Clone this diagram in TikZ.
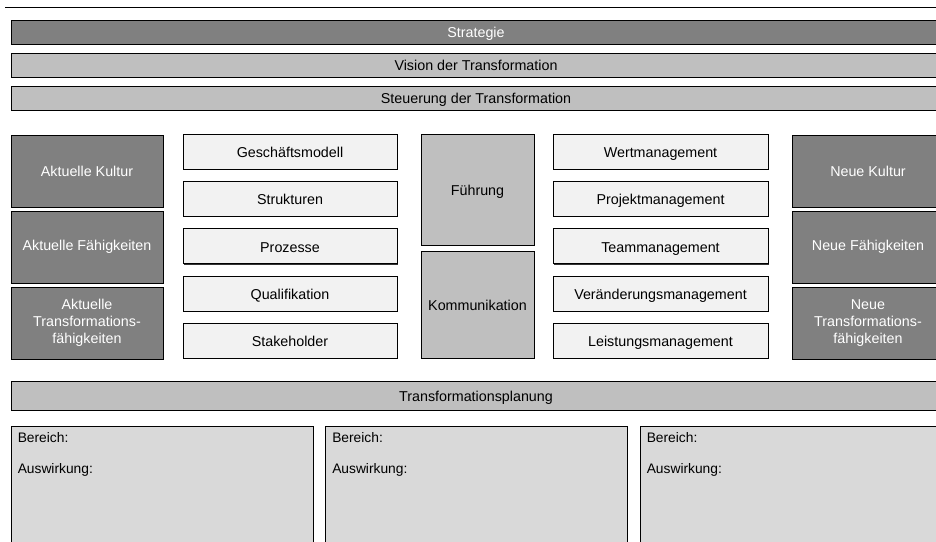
\documentclass[tikz,border=0pt]{standalone}
\usepackage{fontspec}
\setmainfont{Liberation Sans}
\usetikzlibrary{shadows}
\definecolor{dunkel}{HTML}{808080}
\definecolor{mittel}{HTML}{BFBFBF}
\definecolor{hell}{HTML}{F2F2F2}
\definecolor{feld}{HTML}{D9D9D9}
\begin{document}
\begin{tikzpicture}[x=1pt,y=-1pt,
  box/.style={draw,line width=0.9pt,inner sep=0pt,align=center,
    font=\fontsize{14.3}{17}\selectfont,
    general shadow={fill=black!80,shadow xshift=0.8pt,shadow yshift=-0.8pt}},
  zeile/.style={text height=13.5pt,text depth=2pt},
  dunkelbox/.style={box,fill=dunkel,text=white},
  mittelbox/.style={box,fill=mittel},
  hellbox/.style={box,zeile,fill=hell,minimum width=214pt,minimum height=35pt},
  balken/.style={zeile,minimum width=930pt,minimum height=24pt},
  spalte/.style={dunkelbox,minimum width=152pt,minimum height=72pt},
  feldbox/.style={draw,line width=0.9pt,fill=feld,minimum width=302pt,minimum height=140pt,
    general shadow={fill=black!70,shadow xshift=0.7pt,shadow yshift=-0.7pt}}]
  \clip (0,0) rectangle (936,541);
  \draw[line width=0.9pt] (5,7) -- (936,7);
  % Kopfbalken
  \node[dunkelbox,balken] (strat) at (476,32) {Strategie};
  \node[mittelbox,balken] (vision) at (476,65) {Vision der Transformation};
  \node[mittelbox,balken] (steuer) at (476,98) {Steuerung der Transformation};
  % Ist- und Zielzustand
  \node[spalte] (akultur) at (87,171) {Aktuelle Kultur};
  \node[spalte] (afaehig) at (87,247) {Aktuelle F\"ahigkeiten};
  \node[spalte] (atrans) at (87,323) {Aktuelle\\Transformations-\\f\"ahigkeiten};
  \node[spalte] (nkultur) at (868,171) {Neue Kultur};
  \node[spalte] (nfaehig) at (868,247) {Neue F\"ahigkeiten};
  \node[spalte] (ntrans) at (868,323) {Neue\\Transformations-\\f\"ahigkeiten};
  % Hebel
  \foreach \t [count=\i] in {Gesch\"aftsmodell,Strukturen,Prozesse,Qualifikation,Stakeholder}
    \node[hellbox] (links\i) at (290,{151.5+47.4*(\i-1)}) {\t};
  \foreach \t [count=\i] in {Wertmanagement,Projektmanagement,Teammanagement,
      Ver\"anderungsmanagement,Leistungsmanagement}
    \node[hellbox,minimum width=215pt] (rechts\i) at (660.5,{151.5+47.4*(\i-1)}) {\t};
  \node[mittelbox,zeile,minimum width=113pt,minimum height=111pt] (fuehr) at (477.5,190) {F\"uhrung};
  \node[mittelbox,zeile,minimum width=113pt,minimum height=107pt] (komm) at (477.5,304.5) {Kommunikation};
  % Planung
  \node[mittelbox,balken,minimum height=29pt] (plan) at (476,395.5) {Transformationsplanung};
  \foreach \x [count=\i] in {162,476.5,791}{
    \node[feldbox] (feld\i) at (\x,496) {};
    \node[anchor=north west,align=left,inner sep=0pt,font=\fontsize{13.8}{17}\selectfont]
      (text\i) at ([shift={(7pt,-7pt)}]feld\i.north west) {Bereich:\\[14pt]Auswirkung:};}
\end{tikzpicture}
\end{document}
